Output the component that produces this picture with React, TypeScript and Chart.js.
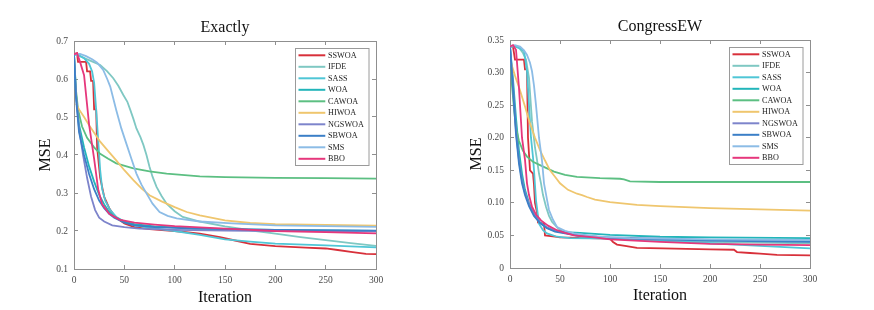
import React, { useEffect, useRef } from 'react';
import { Chart, registerables } from 'chart.js';

Chart.register(...registerables);

type Pt = [number, number];

// ---------- common ----------
const SERIES_NAMES = ['SSWOA', 'IFDE', 'SASS', 'WOA', 'CAWOA', 'HIWOA', 'NGSWOA', 'SBWOA', 'SMS', 'BBO'];
const SERIES_COLORS = ['#d8303a', '#7fc8c3', '#4fc6d6', '#22b5ba', '#5cbf82', '#efc66e', '#7d84cb', '#3b7fc7', '#8cbce6', '#e6377c'];
const X_MIN = 0;
const X_MAX = 300;
const X_STEP = 50;

// ---------- Exactly ----------
const EX_Y_MIN = 0.1;
const EX_Y_MAX = 0.7;
const EX_Y_STEP = 0.1;

const EX_SSWOA: Pt[] = [[0, 0.665], [3, 0.668], [4, 0.645], [12, 0.645], [13, 0.62], [16, 0.62], [17, 0.595], [19, 0.595], [20, 0.52], [22, 0.52], [23, 0.42], [26, 0.34], [30, 0.29], [35, 0.26], [40, 0.24], [50, 0.22], [60, 0.21], [75, 0.205], [100, 0.2], [125, 0.193], [145, 0.184], [160, 0.175], [175, 0.166], [200, 0.16], [230, 0.156], [250, 0.154], [262, 0.15], [275, 0.145], [290, 0.14], [300, 0.139]];
const EX_IFDE: Pt[] = [[0, 0.665], [6, 0.66], [12, 0.653], [19, 0.645], [26, 0.637], [33, 0.62], [39, 0.602], [44, 0.582], [49, 0.558], [53, 0.54], [56, 0.518], [59, 0.495], [62, 0.47], [66, 0.447], [69, 0.426], [72, 0.4], [75, 0.369], [78, 0.343], [82, 0.316], [87, 0.292], [92, 0.272], [100, 0.252], [108, 0.237], [125, 0.225], [150, 0.212], [175, 0.202], [200, 0.193], [225, 0.184], [250, 0.176], [275, 0.168], [300, 0.161]];
const EX_SASS: Pt[] = [[0, 0.665], [5, 0.662], [10, 0.655], [15, 0.64], [18, 0.62], [20, 0.59], [22, 0.52], [24, 0.44], [26, 0.36], [28, 0.31], [31, 0.28], [36, 0.255], [42, 0.237], [50, 0.225], [60, 0.215], [80, 0.207], [100, 0.2], [125, 0.19], [150, 0.178], [175, 0.172], [200, 0.167], [250, 0.162], [300, 0.157]];
const EX_WOA: Pt[] = [[0, 0.665], [2, 0.56], [5, 0.48], [10, 0.42], [15, 0.37], [20, 0.33], [25, 0.295], [30, 0.27], [35, 0.25], [40, 0.237], [50, 0.225], [60, 0.218], [80, 0.212], [120, 0.207], [200, 0.203], [300, 0.2]];
const EX_CAWOA: Pt[] = [[0, 0.665], [2, 0.57], [4, 0.52], [8, 0.475], [13, 0.445], [20, 0.42], [26, 0.403], [34, 0.39], [42, 0.378], [59, 0.365], [75, 0.357], [92, 0.351], [125, 0.344], [150, 0.342], [200, 0.34], [250, 0.339], [300, 0.338]];
const EX_HIWOA: Pt[] = [[2, 0.535], [5, 0.52], [10, 0.5], [16, 0.474], [26, 0.435], [34, 0.41], [42, 0.386], [50, 0.36], [59, 0.334], [67, 0.312], [75, 0.294], [87, 0.278], [100, 0.263], [112, 0.25], [125, 0.241], [150, 0.228], [175, 0.221], [200, 0.218], [250, 0.216], [300, 0.214]];
const EX_NGSWOA: Pt[] = [[0, 0.665], [2, 0.56], [5, 0.47], [9, 0.4], [13, 0.34], [17, 0.29], [21, 0.255], [25, 0.235], [30, 0.225], [38, 0.215], [50, 0.21], [65, 0.206], [100, 0.203], [150, 0.201], [200, 0.2], [300, 0.199]];
const EX_SBWOA: Pt[] = [[0, 0.665], [2, 0.55], [5, 0.46], [10, 0.4], [15, 0.35], [20, 0.31], [25, 0.28], [30, 0.26], [35, 0.245], [40, 0.235], [50, 0.222], [60, 0.215], [80, 0.21], [120, 0.206], [200, 0.203], [300, 0.201]];
const EX_SMS: Pt[] = [[0, 0.665], [6, 0.666], [12, 0.66], [18, 0.652], [23, 0.643], [29, 0.624], [33, 0.6], [36, 0.58], [42, 0.518], [47, 0.47], [52, 0.43], [57, 0.39], [62, 0.351], [67, 0.322], [72, 0.299], [78, 0.272], [85, 0.25], [93, 0.24], [102, 0.233], [125, 0.225], [157, 0.22], [200, 0.215], [300, 0.211]];
const EX_BBO: Pt[] = [[0, 0.665], [3, 0.668], [6, 0.645], [10, 0.61], [15, 0.48], [20, 0.39], [24, 0.31], [28, 0.27], [35, 0.245], [45, 0.23], [60, 0.222], [80, 0.217], [100, 0.213], [150, 0.206], [200, 0.2], [250, 0.197], [300, 0.194]];

// ---------- CongressEW ----------
const CG_Y_MIN = 0;
const CG_Y_MAX = 0.35;
const CG_Y_STEP = 0.05;

const CG_SSWOA: Pt[] = [[0, 0.34], [3, 0.34], [5, 0.32], [14, 0.32], [15, 0.305], [17, 0.305], [18, 0.2], [20, 0.15], [23, 0.145], [24, 0.128], [25, 0.1], [27, 0.085], [28, 0.07], [34, 0.068], [35, 0.05], [45, 0.048], [50, 0.047], [100, 0.045], [103, 0.04], [107, 0.036], [115, 0.034], [127, 0.031], [153, 0.03], [200, 0.0285], [224, 0.028], [227, 0.0245], [240, 0.023], [250, 0.022], [267, 0.02], [300, 0.0195]];
const CG_IFDE: Pt[] = [[0, 0.34], [5, 0.341], [9, 0.338], [13, 0.33], [16, 0.32], [19, 0.292], [22, 0.225], [25, 0.185], [27, 0.166], [29, 0.145], [31, 0.13], [33, 0.112], [36, 0.094], [39, 0.08], [42, 0.071], [48, 0.061], [54, 0.055], [70, 0.048], [100, 0.045], [150, 0.042], [200, 0.04], [250, 0.039], [300, 0.038]];
const CG_SASS: Pt[] = [[0, 0.34], [5, 0.34], [10, 0.337], [14, 0.333], [17, 0.302], [19, 0.25], [21, 0.2], [23, 0.17], [24, 0.15], [26, 0.104], [29, 0.068], [33, 0.058], [37, 0.053], [47, 0.048], [60, 0.046], [100, 0.045], [150, 0.042], [200, 0.038], [250, 0.034], [300, 0.03]];
const CG_WOA: Pt[] = [[0, 0.34], [3, 0.29], [6, 0.23], [9, 0.18], [12, 0.145], [15, 0.12], [19, 0.1], [24, 0.083], [30, 0.07], [37, 0.062], [45, 0.057], [55, 0.055], [70, 0.054], [100, 0.051], [150, 0.048], [200, 0.047], [300, 0.046]];
const CG_CAWOA: Pt[] = [[0, 0.34], [2, 0.28], [4, 0.245], [6, 0.215], [9, 0.195], [13, 0.18], [17, 0.171], [23, 0.163], [30, 0.158], [37, 0.153], [44, 0.148], [55, 0.143], [67, 0.14], [90, 0.138], [110, 0.137], [114, 0.136], [120, 0.133], [150, 0.132], [200, 0.132], [300, 0.132]];
const CG_HIWOA: Pt[] = [[0, 0.32], [5, 0.295], [10, 0.273], [15, 0.248], [20, 0.222], [25, 0.2], [30, 0.181], [35, 0.165], [40, 0.15], [45, 0.14], [50, 0.13], [58, 0.12], [67, 0.114], [72, 0.112], [77, 0.109], [85, 0.105], [100, 0.101], [127, 0.097], [150, 0.095], [200, 0.092], [250, 0.09], [300, 0.088]];
const CG_NGSWOA: Pt[] = [[0, 0.34], [3, 0.28], [6, 0.21], [9, 0.165], [12, 0.135], [15, 0.115], [19, 0.098], [24, 0.082], [30, 0.07], [37, 0.062], [45, 0.057], [55, 0.054], [70, 0.05], [100, 0.047], [150, 0.045], [200, 0.043], [300, 0.042]];
const CG_SBWOA: Pt[] = [[0, 0.34], [3, 0.275], [6, 0.205], [9, 0.16], [12, 0.13], [15, 0.112], [19, 0.095], [24, 0.08], [30, 0.069], [37, 0.061], [45, 0.056], [55, 0.053], [70, 0.049], [100, 0.046], [150, 0.044], [200, 0.042], [300, 0.04]];
const CG_SMS: Pt[] = [[0, 0.34], [5, 0.342], [10, 0.34], [14, 0.334], [17, 0.327], [20, 0.315], [22, 0.302], [24, 0.28], [26, 0.25], [29, 0.2], [32, 0.165], [34, 0.13], [37, 0.105], [39, 0.089], [43, 0.074], [47, 0.063], [55, 0.057], [64, 0.053], [87, 0.048], [120, 0.046], [200, 0.044], [300, 0.043]];
const CG_BBO: Pt[] = [[0, 0.34], [3, 0.342], [6, 0.335], [9, 0.276], [12, 0.2], [15, 0.166], [17, 0.13], [19, 0.112], [22, 0.094], [26, 0.082], [31, 0.073], [38, 0.065], [47, 0.058], [55, 0.054], [64, 0.05], [87, 0.0467], [100, 0.044], [150, 0.04], [200, 0.037], [250, 0.036], [300, 0.035]];

const EX_SERIES = [EX_SSWOA, EX_IFDE, EX_SASS, EX_WOA, EX_CAWOA, EX_HIWOA, EX_NGSWOA, EX_SBWOA, EX_SMS, EX_BBO];
const CG_SERIES = [CG_SSWOA, CG_IFDE, CG_SASS, CG_WOA, CG_CAWOA, CG_HIWOA, CG_NGSWOA, CG_SBWOA, CG_SMS, CG_BBO];

// ---------- styling ----------
const FONT = "'Liberation Serif', 'Times New Roman', serif";
const AXIS_COLOR = '#8f8f8f';
const TICK_TEXT = '#4a4a4a';
const W = 437;
const H = 310;

const boxLegendPlugin = {
  id: 'boxLegend',
  afterDatasetsDraw(chart: any, _args: any, opts: any) {
    const ctx = chart.ctx as CanvasRenderingContext2D;
    const ca = chart.chartArea;
    const left = Math.round(ca.right - opts.offsetRight - opts.width);
    const top = Math.round(ca.top + opts.offsetTop);
    ctx.save();
    ctx.fillStyle = '#ffffff';
    ctx.fillRect(left, top, opts.width, opts.height);
    ctx.strokeStyle = opts.borderColor;
    ctx.lineWidth = 1;
    ctx.strokeRect(left + 0.5, top + 0.5, opts.width, opts.height);
    ctx.font = `${opts.fontSize}px ${FONT}`;
    ctx.textBaseline = 'middle';
    ctx.textAlign = 'left';
    chart.data.datasets.forEach((ds: any, i: number) => {
      const y = top + opts.firstRow + i * opts.rowGap;
      ctx.strokeStyle = ds.borderColor;
      ctx.lineWidth = 2;
      ctx.beginPath();
      ctx.moveTo(left + opts.lineStart, y);
      ctx.lineTo(left + opts.lineEnd, y);
      ctx.stroke();
      ctx.fillStyle = '#1e1e1e';
      ctx.fillText(ds.label, left + opts.textX, y + 0.5);
    });
    ctx.restore();
  },
};

type PanelCfg = {
  title: string;
  series: Pt[][];
  yMin: number;
  yMax: number;
  yStep: number;
  plot: { left: number; right: number; top: number; bottom: number };
  titleCY: number;
  yTitleCX: number;
  xTitleCY: number;
};

function buildChart(canvas: HTMLCanvasElement, c: PanelCfg) {
  const tickFont = { family: FONT, size: 9.5 };
  const labelFont = { family: FONT, size: 16, weight: 'normal' as const };
  const half = (16 * 1.2) / 2;
  const grid = { drawOnChartArea: false, tickLength: -4, color: AXIS_COLOR, lineWidth: 1 };
  const border = { display: true, color: AXIS_COLOR, width: 1 };
  return new Chart(canvas, {
    type: 'line',
    data: {
      datasets: c.series.map((pts, i) => ({
        label: SERIES_NAMES[i],
        data: pts.map(([x, y]) => ({ x, y })),
        borderColor: SERIES_COLORS[i],
        backgroundColor: SERIES_COLORS[i],
        borderWidth: 1.8,
        pointRadius: 0,
        tension: 0,
        fill: false,
        order: c.series.length - i,
      })),
    },
    options: {
      responsive: false,
      animation: false,
      events: [],
      layout: { padding: { left: 0, right: W - c.plot.right, top: 0, bottom: 0 } },
      plugins: {
        legend: { display: false },
        tooltip: { enabled: false },
        title: {
          display: true,
          text: c.title,
          fullSize: false,
          color: '#111',
          font: labelFont,
          padding: { top: c.titleCY - half, bottom: c.plot.top - c.titleCY - half },
        },
        boxLegend: {
          width: 73.5,
          height: 117,
          offsetRight: 7.5,
          offsetTop: 6.8,
          firstRow: 7.3,
          rowGap: 11.5,
          lineStart: 3.5,
          lineEnd: 30.3,
          textX: 33,
          fontSize: 8.2,
          borderColor: '#9a9a9a',
        },
      } as any,
      scales: {
        x: {
          type: 'linear',
          position: 'bottom',
          min: X_MIN,
          max: X_MAX,
          ticks: { stepSize: X_STEP, font: tickFont, color: TICK_TEXT, padding: 10, maxRotation: 0, autoSkip: false },
          grid,
          border,
          title: { display: true, text: 'Iteration', color: '#111', font: labelFont, padding: { top: 0, bottom: H - c.xTitleCY - half } },
          afterFit: (s: any) => { s.height = H - c.plot.bottom; },
        },
        x2: {
          type: 'linear',
          position: 'top',
          min: X_MIN,
          max: X_MAX,
          ticks: { stepSize: X_STEP, display: false },
          grid,
          border,
          afterFit: (s: any) => { s.height = 0; },
        },
        y: {
          type: 'linear',
          position: 'left',
          min: c.yMin,
          max: c.yMax,
          ticks: { stepSize: c.yStep, font: tickFont, color: TICK_TEXT, padding: 10 },
          grid,
          border,
          title: { display: true, text: 'MSE', color: '#111', font: labelFont, padding: { top: c.yTitleCX - half, bottom: 0 } },
          afterFit: (s: any) => { s.width = c.plot.left; },
        },
        y2: {
          type: 'linear',
          position: 'right',
          min: c.yMin,
          max: c.yMax,
          ticks: { stepSize: c.yStep, display: false },
          grid,
          border,
          afterFit: (s: any) => { s.width = 0; },
        },
      },
    } as any,
    plugins: [boxLegendPlugin],
  });
}

function Panel({ cfg, left }: { cfg: PanelCfg; left: number }) {
  const ref = useRef<HTMLCanvasElement | null>(null);
  useEffect(() => {
    if (!ref.current) return;
    const chart = buildChart(ref.current, cfg);
    return () => chart.destroy();
  }, [cfg]);
  return (
    <canvas
      ref={ref}
      width={W}
      height={H}
      style={{ position: 'absolute', left, top: 0, width: W, height: H }}
    />
  );
}

const EXACTLY_CFG: PanelCfg = {
  title: 'Exactly',
  series: EX_SERIES,
  yMin: EX_Y_MIN,
  yMax: EX_Y_MAX,
  yStep: EX_Y_STEP,
  plot: { left: 74, right: 376, top: 41, bottom: 269 },
  titleCY: 27.5,
  yTitleCX: 45.5,
  xTitleCY: 297.5,
};

const CONGRESS_CFG: PanelCfg = {
  title: 'CongressEW',
  series: CG_SERIES,
  yMin: CG_Y_MIN,
  yMax: CG_Y_MAX,
  yStep: CG_Y_STEP,
  plot: { left: 73, right: 373, top: 40, bottom: 268 },
  titleCY: 27,
  yTitleCX: 39.5,
  xTitleCY: 296,
};

export default function App() {
  return (
    <div style={{ position: 'absolute', left: 0, top: 0, width: 874, height: 310, background: '#fff', overflow: 'hidden' }}>
      <Panel cfg={EXACTLY_CFG} left={0} />
      <Panel cfg={CONGRESS_CFG} left={437} />
    </div>
  );
}
